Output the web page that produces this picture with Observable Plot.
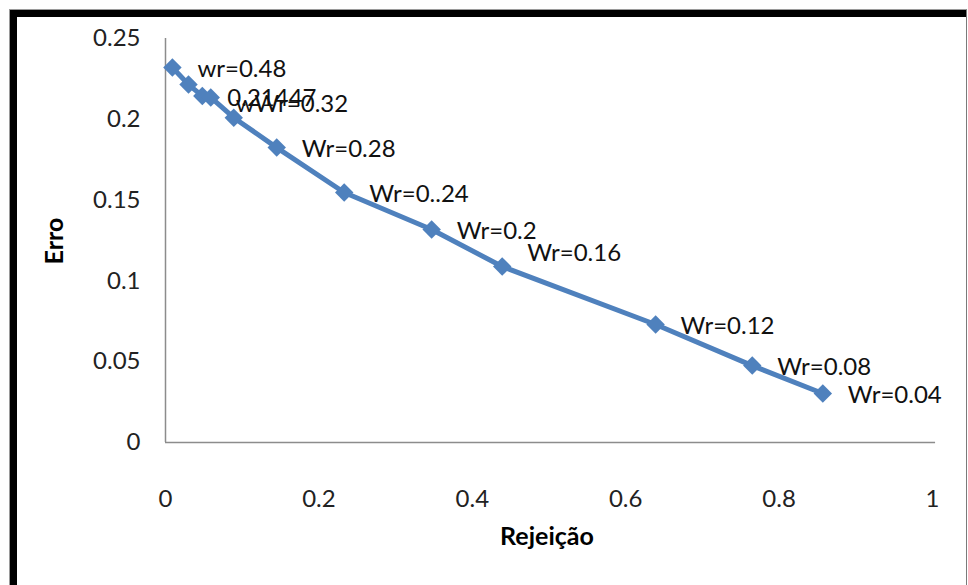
<!DOCTYPE html>
<html>
<head>
<meta charset="utf-8">
<script src="https://cdn.jsdelivr.net/npm/d3@7"></script>
<script src="https://cdn.jsdelivr.net/npm/@observablehq/plot@0.6"></script>
<style>
  html, body { margin: 0; padding: 0; background: #fff; }
  #page { position: relative; width: 968px; height: 585px; overflow: hidden; font-family: Lato, "Open Sans", sans-serif; }
  #frame-outline { position: absolute; left: 9px; top: 9px; width: 958px; height: 600px; border-top: 1px solid #9a9a9a; border-left: 1px solid #9a9a9a; border-right: 1px solid #7a7a7a; box-sizing: border-box; }
  #frame-band { position: absolute; left: 10px; top: 10px; width: 956px; height: 600px; border-top: 7px solid #000; border-left: 7px solid #000; box-sizing: border-box; }
  #chart { position: absolute; left: 0; top: 0; }
</style>
</head>
<body>
<div id="page">
  <div id="frame-outline"></div>
  <div id="frame-band"></div>
  <div id="chart"></div>
</div>
<script>
// Rejection rate vs. error for each reject weight
const rejeicao = [0.009, 0.030, 0.048, 0.059, 0.089, 0.145, 0.233, 0.347, 0.439, 0.639, 0.765, 0.857];
const erro     = [0.232, 0.2215, 0.21447, 0.2135, 0.201, 0.1825, 0.1547, 0.1318, 0.1089, 0.073, 0.0476, 0.0303];
const rotulos  = ["wr=0.48", "", "0.21447", "wWr=0.32", "", "Wr=0.28", "Wr=0..24", "Wr=0.2", "Wr=0.16", "Wr=0.12", "Wr=0.08", "Wr=0.04"];

const xTicks = [0, 0.2, 0.4, 0.6, 0.8, 1];
const yTicks = [0, 0.05, 0.1, 0.15, 0.2, 0.25];
const xTickLabels = ["0", "0.2", "0.4", "0.6", "0.8", "1"];
const yTickLabels = ["0", "0.05", "0.1", "0.15", "0.2", "0.25"];

const pontos = rejeicao.map((r, i) => ({rejeicao: r, erro: erro[i], rotulo: rotulos[i], i}));
const comRotulo = pontos.filter(d => d.rotulo !== "");

const blue = "#4F81BD";
const font = "Lato, 'Open Sans', sans-serif";
const fs = 24;

// data labels sit to the right of each marker; two of them were dragged up/down
const label = (filter, dy) => Plot.text(comRotulo.filter(filter), {
  x: "rejeicao", y: "erro", text: "rotulo",
  dx: 25, dy, textAnchor: "start", fontSize: fs, fill: "#111"
});

const chart = Plot.plot({
  width: 968,
  height: 585,
  marginLeft: 165,
  marginRight: 36,
  marginTop: 38,
  marginBottom: 143,
  style: {fontFamily: font, background: "transparent", overflow: "visible"},
  x: {domain: [0, 1]},
  y: {domain: [0, 0.25]},
  marks: [
    Plot.axisX({
      ticks: xTicks, tickSize: 0, tickPadding: 47,
      tickFormat: (d) => xTickLabels[xTicks.indexOf(d)],
      fontSize: fs, fill: "#222", label: null
    }),
    Plot.axisY({
      ticks: yTicks, tickSize: 0, tickPadding: 25,
      tickFormat: (d) => yTickLabels[yTicks.indexOf(d)],
      fontSize: fs, fill: "#222", label: null
    }),
    Plot.ruleY([0], {stroke: "#8c8c8c", strokeWidth: 1.5, x1: 0, x2: 1.004}),
    Plot.ruleX([0], {stroke: "#8c8c8c", strokeWidth: 1.5}),
    Plot.line(pontos, {x: "rejeicao", y: "erro", stroke: blue, strokeWidth: 5, strokeLinejoin: "round"}),
    Plot.dot(pontos, {x: "rejeicao", y: "erro", symbol: "diamond2", r: 8.3, fill: blue, stroke: null}),
    label(d => d.i !== 3 && d.i !== 8, 2),
    label(d => d.i === 3, 7),
    label(d => d.i === 8, -13)
  ]
});

// axis titles
const svg = d3.select(chart);
svg.append("text")
  .attr("x", 547).attr("y", 539)
  .attr("text-anchor", "middle").attr("dominant-baseline", "middle")
  .attr("font-family", font).attr("font-size", 25).attr("font-weight", "bold").attr("fill", "#000")
  .text("Rejeição");
svg.append("text")
  .attr("transform", "translate(57,241) rotate(-90)")
  .attr("text-anchor", "middle").attr("dominant-baseline", "middle")
  .attr("font-family", font).attr("font-size", 25).attr("font-weight", "bold").attr("fill", "#000")
  .text("Erro");

document.getElementById("chart").appendChild(chart);
</script>
</body>
</html>
